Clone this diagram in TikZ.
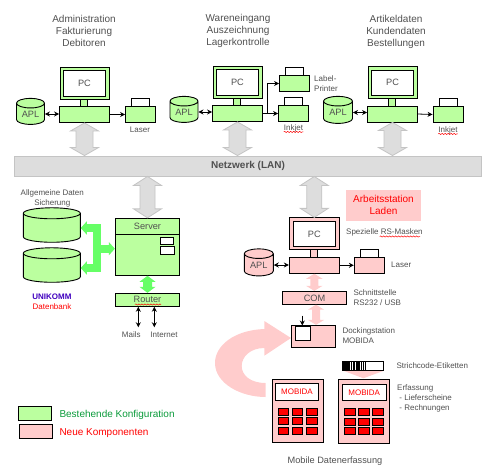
\documentclass[tikz,border=0pt]{standalone}
\usepackage{fontspec}
\setmainfont{Liberation Sans}
\usepackage{tikz}
\usetikzlibrary{arrows.meta,calc,positioning,shapes.geometric,decorations.pathmorphing}
\definecolor{altgreen}{HTML}{BBFF9F}
\definecolor{neupink}{HTML}{FFCCCC}
\definecolor{netgray}{HTML}{DDDDDD}
\definecolor{netline}{HTML}{C4C4C4}
\definecolor{cablegreen}{HTML}{66FF66}
\definecolor{txtgray}{HTML}{505050}
\definecolor{legendgreen}{HTML}{0A9A3A}
\tikzset{
  gbox/.style={draw=black,line width=0.9pt,fill=altgreen,inner sep=0pt,font=\midfont,text=txtgray},
  rbox/.style={draw=black,line width=0.9pt,fill=neupink,inner sep=0pt,font=\midfont,text=txtgray},
  wbox/.style={draw=black,line width=0.9pt,fill=white,inner sep=0pt,font=\midfont,text=txtgray},
  mbox/.style={wbox,font=\fontsize{8}{10}\selectfont,text=red},
  kbox/.style={draw=black,line width=0.9pt,fill=red,inner sep=0pt},
  lan/.style={draw=netline,line width=0.9pt,fill=netgray,inner sep=0pt},
  shopbox/.style={fill=neupink,inner sep=0pt,align=center,font=\fontsize{10}{12}\selectfont,text=red},
  tiny/.style={font=\fontsize{8}{10}\selectfont,text=txtgray,inner sep=0pt,align=left},
  big/.style={font=\fontsize{10}{12}\selectfont,text=txtgray,inner sep=0pt,align=center},
  store/.style={cylinder,shape border rotate=90,draw=black,line width=0.9pt,aspect=#1,
    cylinder uses custom fill,inner sep=0pt,font=\midfont,text=txtgray},
  garrow/.style={draw=netline,line width=0.8pt,fill=netgray},
  parrow/.style={draw=none,fill=neupink},
  carrow/.style={draw=none,fill=cablegreen},
  link/.style={<->,line width=0.9pt},
  feed/.style={->,line width=0.8pt},
  squiggle/.style={red,line width=0.5pt,decorate,decoration={snake,amplitude=0.6pt,segment length=3pt}},
  cable/.style={cablegreen,line width=8pt,-{Triangle[length=6pt,width=13pt]}}
}
\newcommand{\midfont}{\fontsize{9.2}{11}\selectfont}
% box from its two corners
\newcommand{\boxat}[7]{\node[#1,minimum width={(#5-#3)*1pt},minimum height={(#6-#4)*1pt}] (#2) at ({(#3+#5)/2},{(#4+#6)/2}) {#7};}
% vertical double block arrow: style, top, bottom, shaft, head, head length
\newcommand{\blockarrow}[6]{\draw[#1] let \p1=(#2),\p2=(#3) in
  (\x1,\y1) -- (\x1+#5pt,\y1-#6pt) -- (\x1+#4pt,\y1-#6pt) -- (\x1+#4pt,\y2+#6pt) -- (\x1+#5pt,\y2+#6pt) --
  (\x1,\y2) -- (\x1-#5pt,\y2+#6pt) -- (\x1-#4pt,\y2+#6pt) -- (\x1-#4pt,\y1-#6pt) -- (\x1-#5pt,\y1-#6pt) -- cycle;}
\newcommand{\station}[4]{
  \begin{scope}[shift={(#2,#3)}]
    \boxat{#4}{#1neck}{21}{-8}{28}{0}{}
    \boxat{#4}{#1mon}{0.5}{-39.5}{50}{-7.5}{}
    \boxat{wbox}{#1pc}{4}{-36}{46}{-10.5}{PC}
    \boxat{#4}{#1}{0}{0}{50}{16}{}
  \end{scope}
}
\newcommand{\printer}[4]{
  \begin{scope}[shift={(#2,#3)}]
    \boxat{wbox}{#1top}{6}{-8}{24}{0}{}
    \boxat{#4}{#1}{0}{0}{30}{16}{}
  \end{scope}
}
\begin{document}
\begin{tikzpicture}[x=1pt,y=-1pt,>={Stealth[length=5pt,width=5pt]}]
\useasboundingbox (0,0) rectangle (492,472);

\node[big] (hA) at (84,30.5) {Administration\\Fakturierung\\Debitoren};
\node[big] (hB) at (238,31) {Wareneingang\\Auszeichnung\\Lagerkontrolle};
\node[big] (hC) at (396,32) {Artikeldaten\\Kundendaten\\Bestellungen};

% network
\boxat{lan}{net}{14}{156}{481}{176}{}
\node[big,font=\fontsize{10}{12}\selectfont\bfseries] (nettxt) at (248,166) {Netzwerk (LAN)};

% stations
\station{A}{59.5}{106.5}{gbox}
\station{B}{212.5}{105.5}{gbox}
\station{C}{367.5}{106}{gbox}
\station{D}{289.3}{257.3}{rbox}

\printer{pA}{125.5}{106.5}{gbox}
\printer{pL}{279.5}{75.5}{gbox}
\printer{pB}{278.5}{105}{gbox}
\printer{pC}{433}{106.5}{gbox}
\printer{pD}{354.3}{257.3}{rbox}

\node[store=0.55,cylinder body fill=altgreen,cylinder end fill=altgreen,minimum width=28pt,minimum height=26pt] (dA) at (30.5,114) {APL};
\node[store=0.55,cylinder body fill=altgreen,cylinder end fill=altgreen,minimum width=28pt,minimum height=26pt] (dB) at (184,112) {APL};
\node[store=0.55,cylinder body fill=altgreen,cylinder end fill=altgreen,minimum width=29pt,minimum height=27pt] (dC) at (338,112.5) {APL};
\node[store=0.55,cylinder body fill=neupink,cylinder end fill=neupink,minimum width=29pt,minimum height=27pt] (dD) at (258.8,265) {APL};

\draw[link] (dA.east) -- (dA.east -| A.west);
\draw[link] (dB.east) -- (dB.east -| B.west);
\draw[link] (dC.east) -- (dC.east -| C.west);
\draw[link] (dD.east) -- (dD.east -| D.west);
\draw[feed] (A.east) -- (pA.west);
\draw[feed] (C.east) -- (pC.west);
\draw[feed] (D.east) -- (pD.west);
\draw[feed] (B.east) -- (B.east -| pB.west);
\coordinate (split) at (267,113.5);
\draw[feed] (split) |- (pL.west);

\node[tiny] (lA) at (140,130) {Laser};
\node[tiny] (lL) [anchor=west] at (314,83.5) {Label-\\Printer};
\node[tiny] (lB) at (293.5,128) {Inkjet};
\node[tiny] (lC) at (448,130) {Inkjet};
\draw[squiggle] (lB.south west) -- (lB.south east);
\draw[squiggle] (lC.south west) -- (lC.south east);

\blockarrow{garrow}{A.south}{A.south |- net.north}{8.5}{14}{8}
\blockarrow{garrow}{B.south}{B.south |- net.north}{8.5}{14}{8}
\blockarrow{garrow}{C.south}{C.south |- net.north}{8.5}{14}{8}

% server side
\boxat{gbox}{srv}{115.3}{218.3}{179.7}{275.3}{}
\boxat{gbox}{srvhead}{115.3}{218.3}{179.7}{234}{Server}
\boxat{wbox}{slotA}{160.3}{237.3}{173.7}{244.7}{}
\boxat{wbox}{slotB}{160.3}{246.7}{174.7}{254.3}{}
\boxat{gbox}{rout}{115.3}{293.3}{179.7}{306.3}{Router}
\draw[squiggle] (135,304.5) -- (161,304.5);
\blockarrow{garrow}{srv.north |- net.south}{srv.north}{7.5}{14}{9}
\blockarrow{carrow}{srv.south}{rout.north}{4.5}{8}{6}

\node[store=0.55,cylinder body fill=altgreen,cylinder end fill=altgreen,minimum width=57pt,minimum height=34.5pt] (dbA) at (51.8,228) {\hspace*{20pt}};
\node[store=0.55,cylinder body fill=altgreen,cylinder end fill=altgreen,minimum width=57pt,minimum height=34.5pt] (dbB) at (51.8,268) {\hspace*{20pt}};
\coordinate (hub) at (97.3,248.7);
\draw[cable] (hub) |- (dbA.east);
\draw[cable] (hub) |- (dbB.east);
\draw[cable] (hub) -- (hub -| srv.west);

\node[tiny,align=center] (dbtxt) at (52.3,198) {Allgemeine Daten\\Sicherung};
\node[tiny,text=blue!75!red,font=\fontsize{8}{10}\selectfont\bfseries] (uni) at (52,296.7) {UNIKOMM};
\node[tiny,text=red] (dbname) at (52,306.5) {Datenbank};

\coordinate (mailend) at (138.3,327.3);
\coordinate (netend) at (154.3,327.3);
\draw[link] (mailend |- rout.south) -- (mailend);
\draw[link] (netend |- rout.south) -- (netend);
\node[tiny] (mails) at (131.3,335) {Mails};
\node[tiny] (inet) at (164,335) {Internet};

% shop
\blockarrow{garrow}{D.south |- net.south}{Dmon.north -| D.south}{7.5}{14}{9}
\boxat{shopbox}{shop}{346}{190}{421}{220.7}{Arbeitsstation\\Laden}
\node[tiny] (masks) [anchor=west] at (346,232) {Spezielle RS-Masken};
\draw[squiggle] (379.7,236.5) -- (420,236.5);
\node[tiny] (lD) [anchor=west] at (391,265) {Laser};

\boxat{rbox}{com}{282.3}{291.3}{346.7}{304.7}{COM}
\node[tiny] (comtxt) [anchor=west] at (353.3,298) {Schnittstelle\\RS232 / USB};
\boxat{rbox}{dock}{291.3}{325.3}{335.7}{347.3}{}
\boxat{wbox}{slot}{295.3}{326}{310.7}{340.7}{}
\node[tiny] (docktxt) [anchor=west] at (342.3,336) {Dockingstation\\MOBIDA};
\blockarrow{parrow}{D.south}{com.north}{4}{8.2}{5}
\coordinate (comlow) at (316,304.7);
\blockarrow{parrow}{comlow}{comlow |- dock.north}{4}{8.2}{5}
\coordinate (dropin) at (302.3,315.7);
\draw[feed] (dropin) -- (dropin |- slot.north);

% turn arrow
\fill[neupink] (291,338) -- (264.3,321) -- (264.3,329) .. controls (235,330) and (215,345) .. (215,363)
  .. controls (215,383) and (240,397) .. (265.7,397) -- (265.7,383)
  .. controls (250,383) and (241.7,375) .. (241.7,366) .. controls (241.7,357) and (250,348) .. (264.3,348)
  -- (264.3,355.7) -- cycle;

% handhelds
\boxat{rbox}{mobA}{272.3}{379.3}{323.7}{442.3}{}
\boxat{mbox}{scrA}{275.3}{383.3}{318.7}{400.7}{MOBIDA}
\boxat{rbox}{mobB}{338}{379.3}{389.7}{443.3}{}
\boxat{mbox}{scrB}{342.3}{384.7}{386}{400.7}{MOBIDA}
\foreach \kx/\kw in {278.3/10.4,292.3/10.4,306.3/11.4}{
  \foreach \ky in {408.3,417.3,427.3}{
    \draw[kbox] (\kx,\ky) rectangle ++(\kw,7.4);
  }
}
\foreach \kx in {344.3,358.7,372.7}{
  \foreach \ky in {408.3,418.3,427.3}{
    \draw[kbox] (\kx,\ky) rectangle ++(11,7.4);
  }
}

% barcode
\fill[neupink] (343.3,370.7) -- (384,370.7) -- (363.3,378.3) -- cycle;
\boxat{wbox}{code}{342.3}{361.3}{383.7}{370}{}
\foreach \bx/\bw in {343/7,351/1.2,353/1.6,355.5/0.8,357.4/1.2,359.3/0.8,361/0.8,362.8/0.8,364.6/0.8}{
  \fill (\bx,361.3) rectangle ++(\bw,8.7);
}
\node[tiny] (codetxt) [anchor=west] at (396.3,366) {Strichcode-Etiketten};
\node[tiny] (erftxt) [anchor=north west] at (397,385) {Erfassung\\\ - Lieferscheine\\\ - Rechnungen};
\node[big,font=\midfont] (mobtxt) at (335,461) {Mobile Datenerfassung};

% legend
\boxat{gbox}{legA}{18.3}{406.3}{51.7}{420.7}{}
\boxat{rbox}{legB}{19.3}{424.3}{52.7}{438.7}{}
\node[big,text=legendgreen] (legAtxt) [anchor=west] at (59.3,415) {Bestehende Konfiguration};
\node[big,text=red] (legBtxt) [anchor=west] at (59.3,433) {Neue Komponenten};
\end{tikzpicture}
\end{document}
